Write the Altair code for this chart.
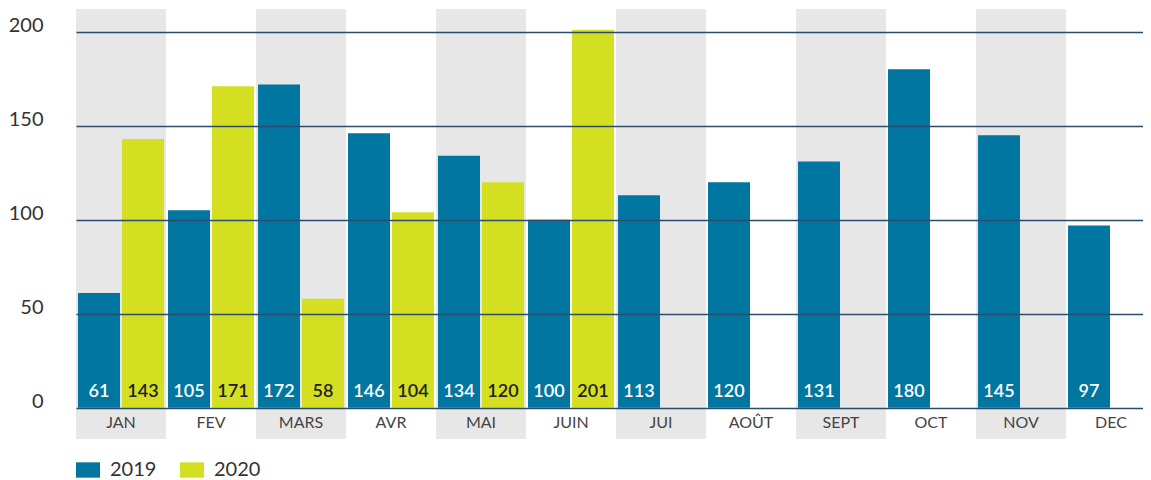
import altair as alt
import pandas as pd

months = ["JAN", "FEV", "MARS", "AVR", "MAI", "JUIN", "JUI", "AOÛT", "SEPT", "OCT", "NOV", "DEC"]
values_2019 = [61, 105, 172, 146, 134, 100, 113, 120, 131, 180, 145, 97]
values_2020 = [143, 171, 58, 104, 120, 201]
years = ["2019", "2020"]
y_ticks = [0, 50, 100, 150, 200]
shaded_months = months[0::2]

Y_MIN, Y_MAX = -16.6, 212.1
BLUE = "#0076a1"
YELLOW = "#d5df21"
GREY = "#e7e7e7"
GRID = "#2b4d6b"
FONT = "Lato"

rows = []
for m, v in zip(months, values_2019):
    rows.append({"month": m, "year": "2019", "value": v})
for m, v in zip(months, values_2020):
    rows.append({"month": m, "year": "2020", "value": v})
df = pd.DataFrame(rows)
bands_df = pd.DataFrame({"month": shaded_months})
months_df = pd.DataFrame({"month": months})

x_enc = alt.X("month:N", sort=months,
              scale=alt.Scale(domain=months, paddingInner=0, paddingOuter=0, range=[0, 1080]),
              axis=None)
xoff_enc = alt.XOffset("year:N", scale=alt.Scale(domain=years, paddingInner=0.0455, paddingOuter=0.0455))
y_scale = alt.Scale(domain=[Y_MIN, Y_MAX], nice=False, zero=False)

bands = alt.Chart(bands_df).mark_rect(color=GREY).encode(
    x=x_enc,
    y=alt.datum(Y_MIN, scale=y_scale),
    y2=alt.datum(Y_MAX),
)

bars = alt.Chart(df).mark_bar(opacity=1).encode(
    x=x_enc,
    xOffset=xoff_enc,
    y=alt.Y("value:Q", scale=y_scale, title=None,
            axis=alt.Axis(values=y_ticks, grid=True, gridColor=GRID, gridWidth=1.5,
                          domain=False, ticks=False, labelPadding=33, labelFont=FONT,
                          labelFontSize=20, labelColor="#333", labelBaseline="alphabetic",
                          zindex=1)),
    y2=alt.datum(0),
    color=alt.Color("year:N", scale=alt.Scale(domain=years, range=[BLUE, YELLOW]),
                    legend=alt.Legend(orient="none", legendX=0, legendY=449, direction="horizontal",
                                      title=None, symbolType="M-1,-0.64H1V0.64H-1Z", symbolSize=576,
                                      symbolStrokeWidth=0, labelFont=FONT, labelFontSize=20,
                                      labelColor="#333", labelOffset=10, columnPadding=23,
                                      padding=0)),
)

bar_text = alt.Chart(df).mark_text(baseline="alphabetic", dy=-11, fontSize=18, font=FONT,
                                   fontWeight=600).encode(
    x=x_enc,
    xOffset=xoff_enc,
    y=alt.datum(0, scale=y_scale),
    text=alt.Text("value:Q"),
    color=alt.condition(alt.datum.year == "2019", alt.value("white"), alt.value("#222")),
)

month_text = alt.Chart(months_df).mark_text(baseline="middle", fontSize=16, font=FONT,
                                            color="#444").encode(
    x=x_enc,
    y=alt.datum((Y_MIN + 0) / 2, scale=y_scale),
    text="month:N",
)

chart = alt.layer(bands, bars, bar_text, month_text).properties(
    width=1067, height=430,
    autosize=alt.AutoSizeParams(type="none"),
    padding={"left": 68, "top": 1, "right": 0, "bottom": 41},
).configure_view(stroke=None)

chart.save("out.html", embed_options={"renderer": "svg", "actions": False})
